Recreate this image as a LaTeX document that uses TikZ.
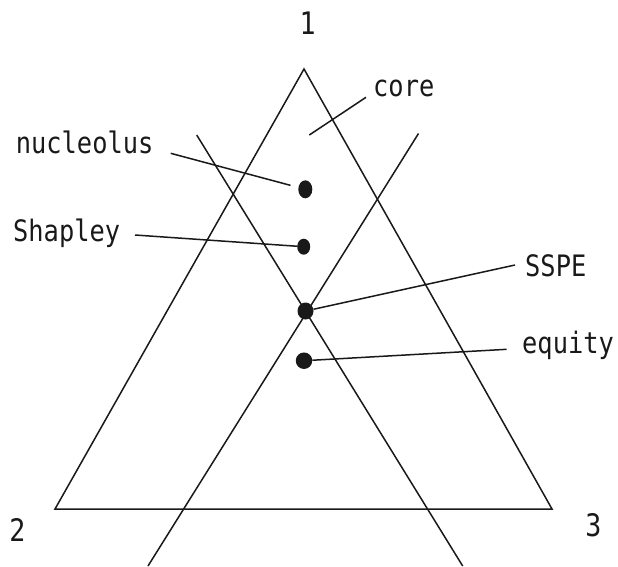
\documentclass[tikz,border=0pt]{standalone}
\usepackage{fontspec}
\usepackage{tikz}
\usetikzlibrary{shapes.geometric}
\newfontfamily\lblfont[FakeStretch=0.86]{DejaVu Sans Mono}
\definecolor{inkBlack}{RGB}{25,25,25}
\tikzset{
    edge/.style={line width=1.5pt, draw=inkBlack},
    pt/.style={ellipse, fill=inkBlack, inner sep=0pt},
    lbl/.style={font=\lblfont\fontsize{29.5}{31}\selectfont, text=inkBlack, inner sep=0pt, anchor=base west},
    corner/.style={font=\lblfont\fontsize{31}{33}\selectfont, text=inkBlack, inner sep=0pt, anchor=base}
}
\begin{document}
\begin{tikzpicture}[x=1pt, y=-1pt]
    \useasboundingbox (0,0) rectangle (618,566);
    % triangle
    \coordinate (P1) at (304,69);
    \coordinate (P2) at (55,509);
    \coordinate (P3) at (552,509);
    \draw[edge] (P1) -- (P2) -- (P3) -- cycle;
    \node[corner] (n1) at (307.7,34) {1};
    \node[corner] (n2) at (17.3,541.7) {2};
    \node[corner] (n3) at (593.3,536) {3};
    % the two crossing lines
    \coordinate (A1) at (196.7,135); \coordinate (A2) at (462.7,566);
    \coordinate (B1) at (418.5,133.5); \coordinate (B2) at (148,566);
    \draw[edge] (A1) -- (A2);
    \draw[edge] (B1) -- (B2);
    % points
    \node[pt, minimum width=14pt, minimum height=18pt] (nuc) at (305.3,189.3) {};
    \node[pt, minimum width=13pt, minimum height=16pt] (shp) at (303.7,246.7) {};
    \node[pt, minimum width=16pt, minimum height=17pt] (ssp) at (305.5,311) {};
    \node[pt, minimum width=16.5pt, minimum height=16.5pt] (equ) at (304,360.7) {};
    \coordinate (coretip) at (309.3,135);
    % labels and leaders
    \foreach \nm/\lab/\lx/\ly/\sx/\sy/\tg/\sh in {
        core/core/373/96.7/366/97.3/coretip/0,
        nucleolus/nucleolus/15.7/153.3/170.7/153.3/nuc/8,
        shapley/Shapley/13/241.7/135/235/shp/0,
        sspe/SSPE/525/276.7/515/265/ssp/0,
        equity/equity/522/353.3/506.7/349.3/equ/0} {
        \node[lbl] (\nm) at (\lx,\ly) {\lab};
        \coordinate (\nm-l) at (\sx,\sy);
        \draw[edge, shorten >=\sh pt] (\nm-l) -- (\tg);
    }
\end{tikzpicture}
\end{document}
